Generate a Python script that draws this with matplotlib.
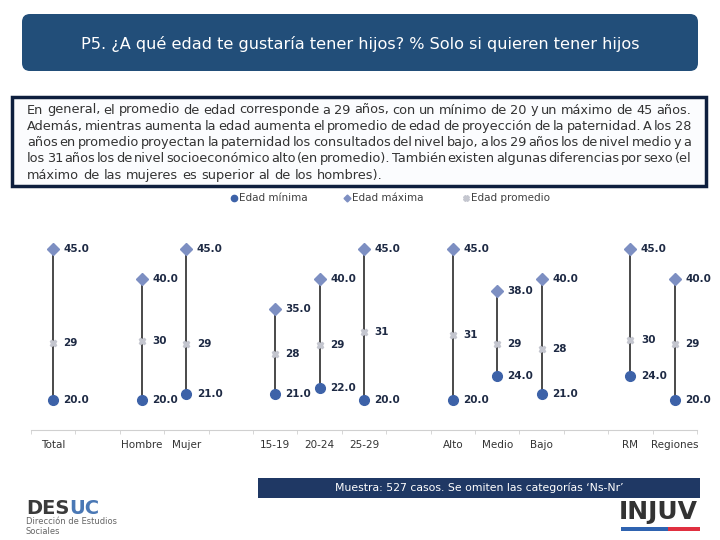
import matplotlib
matplotlib.use("Agg")
import matplotlib.pyplot as plt
from matplotlib.patches import FancyBboxPatch, Rectangle
import numpy as np

# ---------------- data ----------------
categories = ["Total", "", "Hombre", "Mujer", "", "15-19", "20-24", "25-29", "",
              "Alto", "Medio", "Bajo", "", "RM", "Regiones"]
edad_minima = [20, np.nan, 20, 21, np.nan, 21, 22, 20, np.nan, 20, 24, 21, np.nan, 24, 20]
edad_maxima = [45, np.nan, 40, 45, np.nan, 35, 40, 45, np.nan, 45, 38, 40, np.nan, 45, 40]
edad_promedio = [29.4, np.nan, 29.8, 29.3, np.nan, 27.6, 29.1, 31.3, np.nan,
                 30.8, 29.2, 28.4, np.nan, 29.9, 29.2]

title = "P5. ¿A qué edad te gustaría tener hijos? % Solo si quieren tener hijos"
paragraph = [
    "En general, el promedio de edad corresponde a 29 años, con un mínimo de 20 y un máximo de 45 años.",
    "Además, mientras aumenta la edad aumenta el promedio de edad de proyección de la paternidad. A los 28",
    "años en promedio proyectan la paternidad los consultados del nivel bajo, a los 29 años los de nivel medio y a",
    "los 31 años los de nivel socioeconómico alto (en promedio). También existen algunas diferencias por sexo (el",
    "máximo de las mujeres es superior al de los hombres).",
]
legend_labels = ["Edad mínima", "Edad máxima", "Edad promedio"]
footer = "Muestra: 527 casos. Se omiten las categorías ‘Ns-Nr’"

C_MIN = "#3d62a8"
C_MAX = "#7d8fc2"
C_AVG = "#c4c6cf"
C_LINE = "#3a3a3a"
C_LABEL = "#1e2a44"

fig = plt.figure(figsize=(7.2, 5.4), dpi=100)
fig.patch.set_facecolor("white")

# background axes in pixel coordinates
bg = fig.add_axes([0, 0, 1, 1])
bg.set_xlim(0, 720)
bg.set_ylim(540, 0)
bg.axis("off")

# title box
bg.add_patch(FancyBboxPatch((22, 14), 676, 57, boxstyle="round,pad=0,rounding_size=8",
                            facecolor="#224e79", edgecolor="none"))
bg.text(360, 44, title, color="white", fontsize=11.6, ha="center", va="center")

# paragraph box
bg.add_patch(Rectangle((12, 97), 694, 89, facecolor="#fbfcfe", edgecolor="#0e1f3e", lw=2.5))
renderer = fig.canvas.get_renderer()
PFS = 9.3
x0, x1 = 27, 691
sp = bg.text(0, 0, "a a", fontsize=PFS)
sa = bg.text(0, 0, "aa", fontsize=PFS)
space_w = sp.get_window_extent(renderer).width - sa.get_window_extent(renderer).width
sp.remove(); sa.remove()
for i, line in enumerate(paragraph):
    y = 110 + i * 16.3
    words = line.split()
    texts = [bg.text(0, y, w, fontsize=PFS, color="#333333", va="center", ha="left") for w in words]
    widths = [t.get_window_extent(renderer).width for t in texts]
    if i < len(paragraph) - 1:
        gap = (x1 - x0 - sum(widths)) / (len(words) - 1)
    else:
        gap = space_w
    x = x0
    for t, w in zip(texts, widths):
        t.set_x(x)
        x += w + gap

# legend
leg_x = [234, 347, 466]
markers = [("o", C_MIN, 4.5), ("D", C_MAX, 3.5), ("X", C_AVG, 4)]
for lx, lab, (m, c, ms) in zip(leg_x, legend_labels, markers):
    bg.plot([lx], [198], marker=m, color=c, markersize=ms, linestyle="none")
    bg.text(lx + 5, 198, lab, fontsize=7.5, color="#404040", va="center", ha="left")

# main chart
ax = fig.add_axes([31 / 720, 1 - 430 / 540, 666 / 720, 211.2 / 540])
ax.set_facecolor("none")
x = np.arange(len(categories))
ax.set_xlim(-0.5, len(categories) - 0.5)
ax.set_ylim(15, 50)
for s in ["top", "right", "left"]:
    ax.spines[s].set_visible(False)
ax.spines["bottom"].set_color("#d0d0d0")
ax.set_yticks([])
ax.set_xticks(x)
ax.set_xticklabels(categories, fontsize=7.5, color="#333333")
ax.tick_params(axis="x", which="major", length=0, pad=7)
ax.set_xticks(np.arange(-0.5, len(categories)), minor=True)
ax.tick_params(axis="x", which="minor", length=3, color="#d0d0d0")

mn = np.array(edad_minima, dtype=float)
mx = np.array(edad_maxima, dtype=float)
av = np.array(edad_promedio, dtype=float)
valid = ~np.isnan(mn)
ax.vlines(x[valid], mn[valid], mx[valid], color=C_LINE, lw=1.3, zorder=1)
ax.plot(x[valid], mn[valid], "o", color=C_MIN, markersize=7, linestyle="none", zorder=3)
ax.plot(x[valid], mx[valid], "D", color=C_MAX, markersize=6, linestyle="none", zorder=3)
ax.plot(x[valid], av[valid], "X", color=C_AVG, markersize=4.5, linestyle="none", zorder=3)

for xi, a, b, c in zip(x[valid], mn[valid], mx[valid], av[valid]):
    for v, fmt in ((a, "{:.1f}"), (b, "{:.1f}"), (c, "{:.0f}")):
        ax.annotate(fmt.format(v), (xi, v), xytext=(7.5, 0), textcoords="offset points",
                    ha="left", va="center", fontsize=7.5, fontweight="bold", color=C_LABEL)

# footer bar
bg.add_patch(Rectangle((258, 478), 442, 20, facecolor="#1f3864", edgecolor="none"))
bg.text(479, 488, footer, color="white", fontsize=7.8, ha="center", va="center")

# DESUC logo
t1 = bg.text(26, 508, "DES", fontsize=14, fontweight="bold", color="#3b3b3b", va="center", ha="left")
w1 = t1.get_window_extent(renderer).width
bg.text(26 + w1, 508, "UC", fontsize=14, fontweight="bold", color="#4a78b5", va="center", ha="left")
bg.text(26, 521, "Dirección de Estudios", fontsize=6, color="#666666", va="center", ha="left")
bg.text(26, 531, "Sociales", fontsize=6, color="#666666", va="center", ha="left")

# INJUV logo
bg.text(698, 512, "INJUV", fontsize=18, fontweight="bold", color="#333333", va="center", ha="right",
        family="Liberation Sans Narrow")
bg.add_patch(Rectangle((621, 527), 47, 4, facecolor="#2f63b0", edgecolor="none"))
bg.add_patch(Rectangle((668, 527), 32, 4, facecolor="#e03040", edgecolor="none"))

fig.savefig("out.png", dpi=100)
